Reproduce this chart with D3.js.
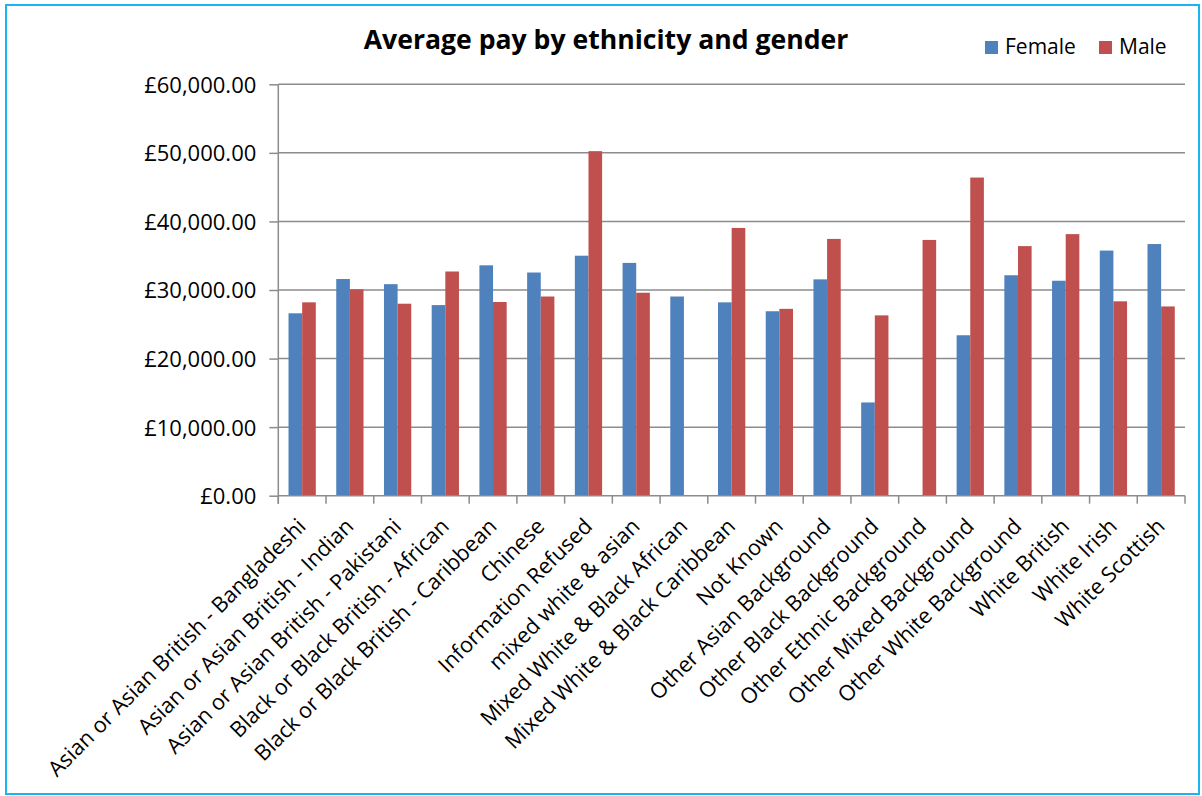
<!DOCTYPE html>
<html lang="en">
  <head>
    <meta charset="UTF-8" />
    <script src="https://cdn.jsdelivr.net/npm/d3@7"></script>
    <style>
      body { margin: 0; background: #fff; }
      text { font-family: "Open Sans", "Noto Sans", sans-serif; fill: #000; }
    </style>
  </head>
  <body>
    <div id="fig"></div>
    <script>
      const width = 1202, height = 796;

      // chart data
      const categories = [
        "Asian or Asian British - Bangladeshi",
        "Asian or Asian British - Indian",
        "Asian or Asian British - Pakistani",
        "Black or Black British - African",
        "Black or Black British - Caribbean",
        "Chinese",
        "Information Refused",
        "mixed white & asian",
        "Mixed White & Black African",
        "Mixed White & Black Caribbean",
        "Not Known",
        "Other Asian Background",
        "Other Black Background",
        "Other Ethnic Background",
        "Other Mixed Background",
        "Other White Background",
        "White British",
        "White Irish",
        "White Scottish",
      ];
      const female = [26600, 31600, 30850, 27800, 33600, 32550, 35000, 33950, 29050, 28200,
        26900, 31550, 13600, null, 23400, 32150, 31350, 35750, 36700];
      const male = [28200, 30100, 28000, 32700, 28250, 29050, 50250, 29600, null, 39050,
        27250, 37450, 26300, 37300, 46400, 36400, 38150, 28350, 27600];
      const series = ["Female", "Male"];
      const colors = { Female: "#4f81bd", Male: "#c0504d" };
      const yTicks = [0, 10000, 20000, 30000, 40000, 50000, 60000];

      const margins = { top: 84.3, left: 278.3, right: 1185, bottom: 495.7 };

      const svg = d3.select("#fig").append("svg")
        .attr("width", width).attr("height", height);

      // outer frame
      svg.append("rect")
        .attr("x", 6).attr("y", 5)
        .attr("width", 1193).attr("height", 789)
        .attr("fill", "none")
        .attr("stroke", "#1cb4ee")
        .attr("stroke-width", 2);

      const x = d3.scaleBand().domain(categories)
        .range([margins.left, margins.right]).padding(0);
      const x1 = d3.scaleBand().domain(series)
        .range([0, x.bandwidth()]).paddingInner(0).paddingOuter(0.75);
      const y = d3.scaleLinear().domain([0, 60000])
        .range([margins.bottom, margins.top]);

      // gridlines
      svg.append("g").selectAll("line").data(yTicks.slice(1)).join("line")
        .attr("x1", margins.left).attr("x2", margins.right)
        .attr("y1", (d) => y(d)).attr("y2", (d) => y(d))
        .attr("stroke", "#8c8c8c").attr("stroke-width", 1.5);

      // y axis
      const yAxis = svg.append("g")
        .attr("transform", `translate(${margins.left},0)`)
        .call(d3.axisLeft(y).tickValues(yTicks).tickSize(9).tickPadding(13)
          .tickFormat((d) => "£" + d3.format(",.2f")(d)));
      yAxis.select(".domain").attr("stroke", "#8c8c8c").attr("stroke-width", 1.5)
        .attr("d", `M0,${margins.top}V${margins.bottom + 8}`);
      yAxis.selectAll(".tick line").attr("stroke", "#8c8c8c").attr("stroke-width", 1.5);
      yAxis.selectAll(".tick text")
        .style("font-family", '"Open Sans", sans-serif')
        .attr("font-size", 22).attr("fill", "#000").attr("dy", "0.36em");

      // bars
      const rows = categories.map((c, i) => ({ cat: c, Female: female[i], Male: male[i] }));
      const groups = svg.append("g").selectAll("g").data(rows).join("g")
        .attr("transform", (d) => `translate(${x(d.cat)},0)`);
      groups.selectAll("rect")
        .data((d) => series.filter((s) => d[s] != null).map((s) => ({ key: s, value: d[s] })))
        .join("rect")
        .attr("x", (d) => x1(d.key))
        .attr("width", x1.bandwidth())
        .attr("y", (d) => y(d.value))
        .attr("height", (d) => y(0) - y(d.value))
        .attr("fill", (d) => colors[d.key]);

      // x axis line + category boundary ticks
      const xAxisG = svg.append("g");
      xAxisG.append("line")
        .attr("x1", margins.left).attr("x2", margins.right)
        .attr("y1", y(0)).attr("y2", y(0))
        .attr("stroke", "#8c8c8c").attr("stroke-width", 1.5);
      const bounds = categories.map((c) => x(c)).concat([margins.right]);
      xAxisG.selectAll(".xt").data(bounds).join("line")
        .attr("x1", (d) => d).attr("x2", (d) => d)
        .attr("y1", y(0)).attr("y2", y(0) + 8)
        .attr("stroke", "#8c8c8c").attr("stroke-width", 1.5);

      // rotated category labels
      xAxisG.selectAll("text").data(categories).join("text")
        .attr("transform", (d) => `translate(${x(d) + x.bandwidth() / 2 + 5},${y(0) + 32}) rotate(-45)`)
        .attr("text-anchor", "end")
        .attr("font-size", 21.6)
        .text((d) => d);

      // title
      svg.append("text")
        .attr("x", 606).attr("y", 49)
        .attr("text-anchor", "middle")
        .attr("font-size", 26.6).attr("font-weight", "bold")
        .text("Average pay by ethnicity and gender");

      // legend
      const legendX = [985, 1099];
      const legend = svg.append("g").selectAll("g").data(series).join("g")
        .attr("transform", (d, i) => `translate(${legendX[i]},41)`);
      legend.append("rect")
        .attr("width", 13).attr("height", 13)
        .attr("fill", (d) => colors[d]);
      legend.append("text")
        .attr("x", 20).attr("y", 13)
        .attr("font-size", 21)
        .text((d) => d);
    </script>
  </body>
</html>
